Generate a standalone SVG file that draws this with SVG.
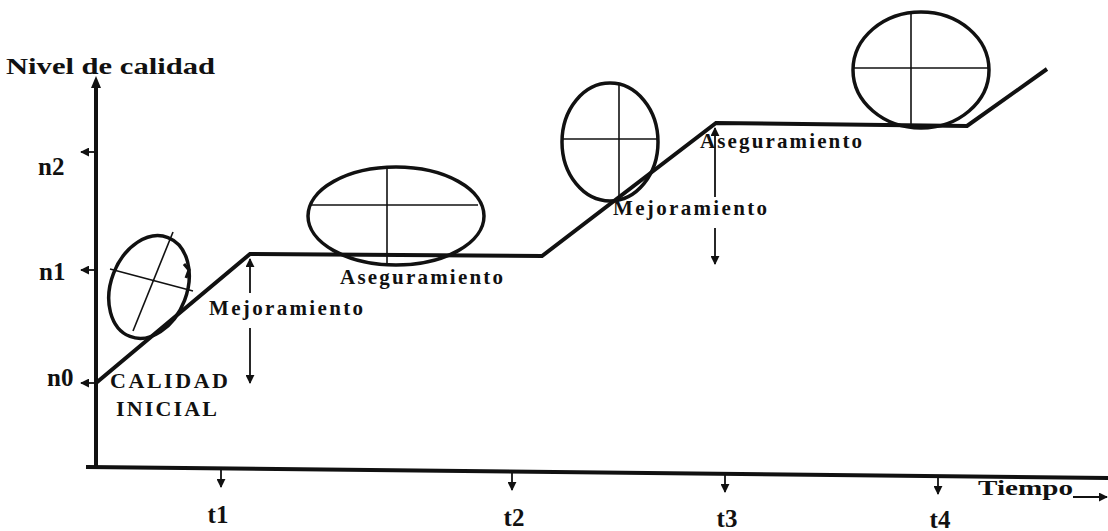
<svg xmlns="http://www.w3.org/2000/svg" width="1108" height="531" viewBox="0 0 1108 531">
<style>
text{font-family:"Liberation Serif","Times New Roman",serif;font-weight:bold;fill:#111}
.ax{stroke:#111;stroke-width:4;fill:none;stroke-linecap:square}
.cv{stroke:#111;stroke-width:4;fill:none;stroke-linejoin:miter}
.el{stroke:#111;stroke-width:3.5;fill:none}
.cr{stroke:#111;stroke-width:1.6;fill:none}
.tk{stroke:#111;stroke-width:1.8;fill:none}
</style>
<defs>
<marker id="ah" viewBox="0 0 10 10" refX="9" refY="5" markerWidth="9" markerHeight="9" markerUnits="userSpaceOnUse" orient="auto"><path d="M0,0 L10,5 L0,10 z" fill="#111"/></marker>
</defs>
<rect width="1108" height="531" fill="#fff"/>
<g id="axes">
<line class="ax" x1="96" y1="466" x2="96" y2="84"/>
<path d="M96,76 L91,88 L101,88 z" fill="#111"/>
<line class="ax" x1="88" y1="467" x2="1108" y2="478"/>
<text x="6" y="74" font-size="23" textLength="209" lengthAdjust="spacingAndGlyphs">Nivel de calidad</text>
<text x="978" y="495" font-size="20" textLength="95" lengthAdjust="spacingAndGlyphs">Tiempo</text>
<line class="tk" x1="1073" y1="497" x2="1107" y2="497" marker-end="url(#ah)"/>
</g>
<g id="yticks">
<line class="tk" x1="96" y1="152" x2="81" y2="152" marker-end="url(#ah)"/>
<text x="38" y="175" font-size="25">n2</text>
<line class="tk" x1="96" y1="270" x2="81" y2="270" marker-end="url(#ah)"/>
<text x="39" y="280" font-size="25">n1</text>
<line class="tk" x1="96" y1="383" x2="81" y2="383" marker-end="url(#ah)"/>
<text x="47" y="386" font-size="25">n0</text>
</g>
<g id="xticks">
<line class="tk" x1="221" y1="470" x2="221" y2="487" marker-end="url(#ah)"/>
<text x="218" y="523" font-size="25" text-anchor="middle">t1</text>
<line class="tk" x1="512" y1="473" x2="512" y2="490" marker-end="url(#ah)"/>
<text x="514" y="526" font-size="25" text-anchor="middle">t2</text>
<line class="tk" x1="725" y1="475" x2="725" y2="492" marker-end="url(#ah)"/>
<text x="727" y="527" font-size="25" text-anchor="middle">t3</text>
<line class="tk" x1="938" y1="477" x2="938" y2="494" marker-end="url(#ah)"/>
<text x="940" y="528" font-size="25" text-anchor="middle">t4</text>
</g>
<g id="curve">
<polyline class="cv" points="96,383 250,254 542,256 716,123 967,126 1047,69"/>
</g>
<g id="ellipse1">
<ellipse class="el" cx="149" cy="287" rx="38" ry="53" transform="rotate(21 149 287)"/>
<line class="cr" x1="173" y1="232" x2="133" y2="331"/>
<line class="cr" x1="110" y1="269" x2="193" y2="291"/>
<path d="M184,264 L189,270 L186,278" stroke="#111" stroke-width="3" fill="none"/>
</g>
<g id="ellipse2">
<ellipse class="el" cx="396" cy="216" rx="88" ry="49"/>
<line class="cr" x1="309" y1="205" x2="478" y2="205"/>
<line class="cr" x1="387" y1="167" x2="387" y2="265"/>
</g>
<g id="ellipse3">
<ellipse class="el" cx="610" cy="142" rx="48" ry="59"/>
<line class="cr" x1="562" y1="139" x2="657" y2="139"/>
<line class="cr" x1="619" y1="84" x2="619" y2="200"/>
</g>
<g id="ellipse4">
<ellipse class="el" cx="921" cy="70" rx="68" ry="58"/>
<line class="cr" x1="854" y1="68" x2="988" y2="68"/>
<line class="cr" x1="911" y1="12" x2="911" y2="128"/>
</g>
<g id="labels">
<text x="110" y="388" font-size="22" textLength="118" lengthAdjust="spacing">CALIDAD</text>
<text x="116" y="416" font-size="22" textLength="101" lengthAdjust="spacing">INICIAL</text>
<text x="209" y="315" font-size="21" textLength="154" lengthAdjust="spacing">Mejoramiento</text>
<text x="340" y="284" font-size="21" textLength="163" lengthAdjust="spacing">Aseguramiento</text>
<text x="613" y="215" font-size="21" textLength="154" lengthAdjust="spacing">Mejoramiento</text>
<text x="700" y="148" font-size="21" textLength="162" lengthAdjust="spacing">Aseguramiento</text>
</g>
<g id="connectors">
<line class="tk" x1="250" y1="293" x2="250" y2="259" marker-end="url(#ah)"/>
<line class="tk" x1="250" y1="328" x2="250" y2="383" marker-end="url(#ah)"/>
<line class="tk" x1="715" y1="197" x2="715" y2="128" marker-end="url(#ah)"/>
<line class="tk" x1="715" y1="228" x2="715" y2="264" marker-end="url(#ah)"/>
</g>
</svg>
